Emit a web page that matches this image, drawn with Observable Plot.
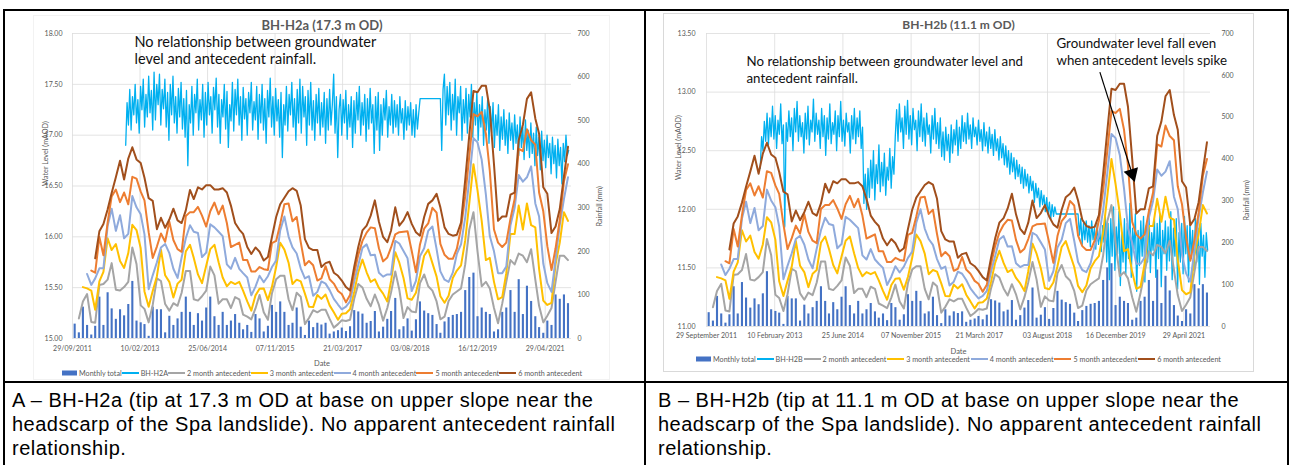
<!DOCTYPE html>
<html>
<head>
<meta charset="utf-8">
<script src="https://cdn.jsdelivr.net/npm/d3@7"></script>
<script src="https://cdn.jsdelivr.net/npm/@observablehq/plot@0.6"></script>
<style>
  html,body{margin:0;padding:0;background:#fff;}
  #page{position:relative;width:1290px;height:465px;overflow:hidden;background:#fff;}
  .bline{position:absolute;background:#000;}
  .frame{position:absolute;border:1px solid #d9d9d9;box-sizing:border-box;}
  .chart{position:absolute;top:0;}
  .legend{position:absolute;display:flex;justify-content:space-between;align-items:center;font-family:Lato,sans-serif;font-size:7.2px;color:#595959;white-space:nowrap;height:10px;}
  .legend .item{display:flex;align-items:center;}
  .legend svg{margin-right:2px;display:block;}
  .cap{position:absolute;font-family:"Liberation Sans",Arial,sans-serif;font-size:20px;letter-spacing:0.5px;line-height:24px;color:#000;white-space:nowrap;}
</style>
</head>
<body>
<div id="page">
  <div class="frame" style="left:33px;top:15px;width:577px;height:365px;border-color:#f2f2f2"></div>
  <div class="frame" style="left:663px;top:13px;width:591px;height:359px;"></div>
  <div id="chartA" class="chart" style="left:0px"></div>
  <div id="chartB" class="chart" style="left:645px"></div>
  <div id="legendA" class="legend" style="left:62px;top:368px;width:520px"></div>
  <div id="legendB" class="legend" style="left:696px;top:354px;width:525px"></div>
  <div class="bline" style="left:3px;top:9px;width:1286px;height:2px"></div>
  <div class="bline" style="left:3px;top:9px;width:2px;height:456px"></div>
  <div class="bline" style="left:644px;top:9px;width:2px;height:456px"></div>
  <div class="bline" style="left:1287px;top:9px;width:2px;height:456px"></div>
  <div class="bline" style="left:3px;top:381px;width:1286px;height:2px"></div>
  <div class="cap" style="left:12px;top:388px">A – BH-H2a (tip at 17.3 m OD at base on upper slope near the<br>headscarp of the Spa landslide). No apparent antecedent rainfall<br>relationship.</div>
  <div class="cap" style="left:658px;top:388px">B – BH-H2b (tip at 11.1 m OD at base on upper slope near the<br>headscarp of the Spa landslide). No apparent antecedent rainfall<br>relationship.</div>
</div>
<script>
// ---------- axis ticks ----------
const xStart = "2011-09-29";
const xEnd = "2021-11-10";
const dateTicks = ["2011-09-29","2013-02-10","2014-06-25","2015-11-07","2017-03-21","2018-08-03","2019-12-16","2021-04-29"];
const levelTicksA = [15, 15.5, 16, 16.5, 17, 17.5, 18];
const levelTicksB = [11, 11.5, 12, 12.5, 13, 13.5];
const rainTicks = [0, 100, 200, 300, 400, 500, 600, 700];

// ---------- monthly rainfall (mm), Oct 2011 .. Oct 2021 ----------
const firstMonth = "2011-10-01";
const monthlyTotal = [
 33,13,72,30,8,28,95,30,105,68,44,66,
 52,78,131,40,36,32,5,72,66,66,13,51,
 30,45,60,95,60,30,57,40,70,95,50,30,
 60,30,40,55,35,20,30,14,55,45,15,28,
 76,60,84,60,30,35,70,26,7,40,25,35,
 31,35,10,15,18,24,16,27,64,61,56,35,
 39,62,15,26,44,62,92,20,27,45,17,43,
 84,63,57,53,32,12,38,48,53,55,60,110,
 140,150,50,70,60,55,15,20,60,70,110,60,
 135,55,120,85,50,25,12,40,30,100,90,100,
 80];
// antecedent rainfall (mm); each list ends at Oct 2021
const ante2 = [46,85,102,38,36,123,125,135,173,112,110,
 118,130,209,171,76,68,37,77,138,132,79,64,
 81,75,105,155,155,90,87,97,110,165,145,80,
 90,90,70,95,90,55,50,44,69,100,60,43,
 104,136,144,144,90,65,105,96,33,47,65,60,
 66,66,45,25,33,42,40,43,91,125,117,91,
 74,101,77,41,70,106,154,112,47,72,62,60,
 127,147,120,110,85,44,50,86,101,108,115,170,
 250,290,200,120,130,115,70,35,80,130,180,170,
 195,190,175,205,135,75,37,52,70,130,190,190,
 180];
const ante3 = [118,115,110,66,131,153,230,203,217,178,
 162,196,261,249,207,108,73,109,143,204,145,130,
 94,126,135,200,215,185,147,127,167,205,215,175,
 140,120,130,125,130,110,85,64,99,114,115,88,
 119,164,220,204,174,125,135,131,103,73,72,100,
 91,101,76,60,43,57,58,67,107,152,181,152,
 130,136,116,103,85,132,198,174,139,92,89,105,
 144,190,204,173,142,97,82,98,139,156,168,225,
 310,400,340,270,180,185,130,90,95,150,240,240,
 305,250,310,260,255,160,87,77,82,170,220,290,
 270];
const ante4 = [148,123,138,161,161,258,298,247,283,
 230,240,327,301,285,239,113,145,175,209,217,196,
 160,139,186,230,260,245,242,187,197,262,255,245,
 235,170,160,185,160,150,140,99,119,144,129,143,
 164,179,248,280,234,209,195,161,138,143,98,107,
 131,126,111,91,78,67,73,85,131,168,208,216,
 191,192,151,142,147,147,224,218,201,184,109,132,
 189,207,247,257,205,154,135,130,151,194,216,278,
 365,460,450,410,330,235,200,150,150,165,260,300,
 375,360,370,395,310,280,172,127,107,182,260,320,
 370];
const ante5 = [156,151,233,191,266,326,342,313,
 335,308,371,367,337,317,244,185,211,241,222,268,
 226,205,199,281,290,290,302,282,257,292,312,285,
 305,265,210,215,220,180,180,154,154,164,159,157,
 219,224,263,308,310,269,279,221,168,178,168,133,
 138,166,136,126,109,102,83,100,149,192,224,243,
 255,253,207,177,186,209,239,244,245,246,201,152,
 216,252,264,300,289,217,192,183,183,206,254,326,
 418,515,510,520,470,385,250,220,210,220,275,320,
 435,430,480,455,445,335,292,212,157,207,272,360,
 400];
const ante6 = [184,246,263,296,334,370,408,
 365,413,439,411,403,369,322,316,251,277,254,273,
 298,271,265,294,341,320,347,342,352,352,342,342,
 345,335,305,265,250,240,210,194,209,199,179,187,
 233,279,308,323,338,345,339,305,228,208,203,203,
 164,173,176,151,144,133,118,110,164,210,248,259,
 282,317,268,233,221,248,301,259,271,290,263,244,
 236,279,309,317,332,301,255,240,236,238,266,364,
 466,568,565,580,580,525,400,270,280,280,330,335,
 455,490,550,565,505,470,347,332,242,257,297,372,
 440];

// ---------- groundwater levels (mAOD), one reading every 10 days from 27 Oct 2012 ----------
const gwStart = "2012-10-27";
const gwStepDays = 10;
const levelH2a = [
 16.90,17.32,17.10,17.45,17.05,17.38,17.20,17.50,17.12,17.35,
 17.02,17.48,17.25,17.55,17.08,17.40,17.18,17.58,17.22,17.44,
 17.05,17.62,17.15,17.50,17.30,17.60,17.10,17.45,17.26,17.55,
 17.08,17.42,16.95,17.50,17.20,17.58,17.12,17.38,17.02,17.46,
 17.18,17.52,17.06,17.36,16.98,17.44,16.70,17.30,17.12,17.48,
 17.00,17.40,17.22,17.55,17.05,17.35,17.15,17.50,16.98,17.42,
 17.10,17.52,17.20,17.38,17.02,17.47,17.25,17.56,17.08,17.40,
 16.92,17.35,17.18,17.50,17.06,17.43,16.88,17.30,17.14,17.52,
 17.04,17.45,17.20,17.55,17.10,17.38,16.95,17.47,17.16,17.36,
 17.00,17.42,17.22,17.52,17.05,17.33,17.15,17.48,16.96,17.40,
 17.12,17.50,17.05,17.36,16.92,17.44,17.18,17.56,17.08,17.38,
 17.00,17.46,17.14,17.35,16.98,17.42,16.78,17.30,17.10,17.48,
 17.04,17.40,17.20,17.52,17.08,17.36,16.95,17.45,17.12,17.55,
 17.02,17.48,17.18,17.38,16.90,17.44,17.10,17.52,17.05,17.34,
 16.95,17.40,17.12,17.46,17.00,17.32,17.08,17.42,16.92,17.36,
 17.05,17.45,17.10,17.30,17.60,17.02,17.38,16.78,17.25,17.40,
 17.00,17.35,17.12,17.44,16.96,17.30,17.08,17.38,16.88,17.34,
 17.02,17.42,17.15,17.48,17.00,17.32,17.10,17.40,16.94,17.36,
 17.06,17.46,17.12,17.30,16.82,17.38,17.05,17.42,16.85,17.30,
 17.00,17.36,17.15,17.44,16.98,17.28,17.10,17.40,17.02,17.34,
 17.08,17.30,17.00,17.38,17.12,17.26,16.96,17.34,17.05,17.28,
 17.10,17.32,17.00,17.25,16.98,17.30,17.06,17.22,
 17.36,17.36,17.36,17.36,17.36,17.36,17.36,17.36,17.36,17.36,17.36,17.36,17.36,17.36,17.36,17.36,
 16.85,17.45,17.60,17.10,17.48,17.20,
 17.52,17.05,17.40,17.15,17.55,17.00,17.38,17.22,17.48,16.95,
 17.35,17.12,17.46,17.02,17.40,17.18,17.50,16.98,17.32,17.10,
 17.42,16.95,17.30,17.08,17.38,16.90,17.25,17.05,17.35,16.92,
 17.28,17.02,17.32,16.88,17.20,17.00,17.30,16.85,17.18,16.96,
 17.25,16.90,17.15,16.82,17.22,16.95,17.12,16.86,17.20,16.92,
 17.10,16.80,17.18,16.88,17.08,16.76,17.15,16.85,17.05,16.78,
 17.12,16.82,17.02,16.70,17.08,16.80,16.98,16.66,17.04,16.75,
 16.95,16.68,17.00,16.78,16.92,16.62,16.98,16.72,16.90,16.58,
 16.96,16.70,16.88,16.52,16.92,16.74,17.00,16.80,16.85];
const levelH2b = [
 12.35,12.62,12.50,12.75,12.58,12.82,12.55,12.78,12.62,12.88,
 12.60,12.80,12.52,12.76,12.64,12.90,12.56,12.72,11.85,12.74,
 12.58,12.84,12.62,12.78,12.50,12.86,12.66,12.92,12.58,12.80,
 12.62,12.74,12.48,12.82,12.60,12.88,12.55,12.76,12.66,12.94,
 12.58,12.82,12.64,12.76,12.52,12.86,12.62,12.80,12.46,12.78,
 12.60,12.90,12.56,12.74,12.64,12.84,12.50,12.80,12.62,12.92,
 12.58,12.76,12.54,12.82,12.66,12.74,12.48,12.80,12.60,12.86,
 12.56,12.78,12.62,12.84,12.52,12.70,
 12.05,12.30,12.00,12.35,
 12.10,12.42,12.18,12.50,12.08,12.38,12.22,12.55,12.15,12.40,
 12.20,12.48,12.12,12.36,12.25,12.52,12.18,12.45,12.30,
 12.62,12.85,12.58,12.90,12.66,12.78,12.52,12.88,12.64,12.93,12.60,
 12.80,12.55,12.86,12.68,12.76,12.50,12.84,12.62,12.90,12.58,
 12.78,12.54,12.82,12.64,12.72,12.48,12.80,12.60,12.86,12.56,
 12.74,12.52,12.78,12.45,12.66,12.42,12.70,12.50,12.64,12.40,
 12.72,12.48,12.68,12.55,12.76,12.46,12.70,12.52,12.80,12.58,
 12.74,12.56,12.82,12.60,12.72,12.52,12.78,12.62,12.70,12.55,
 12.76,12.58,12.68,12.50,12.74,12.54,12.66,12.48,12.70,12.52,
 12.64,12.46,12.68,12.50,12.60,12.42,12.62,12.44,12.56,12.38,
 12.54,12.36,12.50,12.30,12.48,12.32,12.44,12.26,12.42,12.28,
 12.38,12.22,12.36,12.18,12.34,12.20,12.30,12.14,12.28,12.16,
 12.24,12.06,12.22,12.10,12.18,12.02,12.16,12.04,12.12,11.98,
 12.10,11.96,12.06,11.92,12.04,11.94,12.02,11.96,
 11.96,11.96,11.96,11.96,11.96,11.96,11.96,11.96,11.96,11.96,11.96,11.96,11.96,11.96,11.96,11.96,
 11.78,11.92,11.70,11.88,11.74,11.90,
 11.72,11.86,11.68,11.90,11.74,11.84,11.66,11.88,11.70,11.82,
 11.64,11.86,11.72,11.95,11.55,11.88,11.40,11.92,11.60,12.02,
 11.48,11.85,11.62,11.98,11.35,11.80,11.55,11.92,11.45,11.88,
 11.58,12.05,11.42,11.84,11.66,11.96,11.30,11.82,11.52,11.90,
 11.60,11.94,11.38,11.86,11.55,12.00,11.46,11.80,11.65,11.92,
 11.42,11.88,11.58,11.96,11.34,11.82,11.62,11.90,11.48,11.85,
 11.56,11.98,11.40,11.84,11.60,11.92,11.32,11.80,11.55,11.88,
 11.45,11.94,11.62,11.86,11.38,11.90,11.58,11.82,11.48,11.92,
 11.55,11.84,11.36,11.88,11.60,11.78,11.42,11.80,11.65];

// ---------- annotation arrow (panel B), in data units ----------
const arrowFrom = {date: "2019-08-22", level: 13.17};
const arrowTo = {date: "2020-04-29", level: 12.25};

// ---------- series styling ----------
const anteSeries = [
  {name: "2 month antecedent", values: ante2, color: "#A5A5A5"},
  {name: "3 month antecedent", values: ante3, color: "#FFC000"},
  {name: "4 month antecedent", values: ante4, color: "#8FAADC"},
  {name: "5 month antecedent", values: ante5, color: "#ED7D31"},
  {name: "6 month antecedent", values: ante6, color: "#A14F1C"}
];
const barColor = "#4472C4";
const gwColor = "#00B0F0";

const parse = s => new Date(s + "T00:00:00Z");
const monthDates = monthlyTotal.map((_, i) => d3.utcDay.offset(d3.utcMonth.offset(parse(firstMonth), i), 14));
const rainRows = monthlyTotal.map((v, i) => ({date: monthDates[i], value: v}));
function anteRows(values) {
  const lag = monthlyTotal.length - values.length;
  return values.map((v, j) => ({date: monthDates[j + lag], value: v}));
}
function gwRows(values) {
  return values.map((v, i) => ({date: d3.utcDay.offset(parse(gwStart), i * gwStepDays), value: v}));
}

function drawChart(cfg) {
  const yRain = d3.scaleLinear([0, 700], cfg.levelDomain);
  const ticksX = dateTicks.map(parse);
  const marks = [
    Plot.gridY(cfg.levelTicks, {stroke: "#dcdcdc", strokeOpacity: 1, strokeWidth: 0.8}),
    Plot.gridX(ticksX, {stroke: "#dcdcdc", strokeOpacity: 1, strokeWidth: 0.8}),
    Plot.ruleX(rainRows, {x: "date", y1: cfg.levelDomain[0], y2: d => yRain(d.value), stroke: barColor, strokeWidth: 2.1}),
    Plot.line(gwRows(cfg.level), {x: "date", y: "value", stroke: gwColor, strokeWidth: 1.3}),
    ...anteSeries.map(s => Plot.line(anteRows(s.values), {x: "date", y: d => yRain(d.value), stroke: s.color, strokeWidth: 2})),
    Plot.axisY(cfg.levelTicks, {tickSize: 0, tickPadding: cfg.yTickPad, tickFormat: d => d.toFixed(2), label: null}),
    Plot.axisY(rainTicks, {y: yRain, anchor: "right", tickSize: 0, tickPadding: cfg.rTickPad, tickFormat: d => String(d), label: null}),
    Plot.axisX(ticksX, {tickSize: 0, tickPadding: cfg.xTickPad, tickFormat: cfg.xFormat, label: null}),
    Plot.text([cfg.title], {frameAnchor: "top", lineAnchor: "middle", dy: -8, fontSize: cfg.titleSize, fontWeight: "bold", fill: "#595959"}),
    Plot.text(["Water Level (mAOD)"], {frameAnchor: "left", rotate: -90, dx: cfg.wlDx, fontSize: 7.2}),
    Plot.text(["Rainfall (mm)"], {frameAnchor: "right", rotate: -90, dx: cfg.rfDx, fontSize: 7.2}),
    Plot.text(["Date"], {frameAnchor: "bottom", lineAnchor: "middle", dy: cfg.dateDy, fontSize: 7.5}),
    ...cfg.notes.map(n => Plot.text([n.text], {frameAnchor: "top-left", textAnchor: "start", lineAnchor: "top", dx: n.dx, dy: n.dy, fontSize: n.size, lineHeight: n.lh, fill: "#111"}))
  ];
  if (cfg.arrow) {
    marks.push(Plot.link([0], {x1: () => parse(arrowFrom.date), y1: () => arrowFrom.level, x2: () => parse(arrowTo.date), y2: () => arrowTo.level, stroke: "#000", strokeWidth: 1.2}));
    marks.push(Plot.dot([0], {x: () => parse(arrowTo.date), y: () => arrowTo.level, symbol: "triangle", r: 5.6, fill: "#000", stroke: "none", rotate: 162.5, dx: -2, dy: -6.3}));
  }
  return Plot.plot({
    width: cfg.width, height: cfg.height,
    marginLeft: cfg.marginLeft, marginRight: cfg.marginRight, marginTop: cfg.marginTop, marginBottom: cfg.marginBottom,
    style: {fontFamily: "Lato, sans-serif", fontSize: "7px", color: "#595959", background: "transparent", overflow: "visible"},
    x: {type: "utc", domain: [parse(xStart), parse(xEnd)]},
    y: {domain: cfg.levelDomain},
    marks
  });
}

document.getElementById("chartA").appendChild(drawChart({
  width: 645, height: 370, marginLeft: 72, marginRight: 74, marginTop: 33, marginBottom: 32,
  levelDomain: [15, 18], levelTicks: levelTicksA, level: levelH2a,
  title: "BH-H2a (17.3 m OD)", titleSize: 13, xFormat: d3.utcFormat("%d/%m/%Y"),
  yTickPad: 10, rTickPad: 6, xTickPad: 8, wlDx: -27, rfDx: 28, dateDy: 25,
  notes: [{text: "No relationship between groundwater\nlevel and antecedent rainfall.", dx: 62, dy: 1, size: 14.5, lh: 1.2}],
  arrow: false
}));
document.getElementById("chartB").appendChild(drawChart({
  width: 645, height: 360, marginLeft: 61, marginRight: 80, marginTop: 33, marginBottom: 34,
  levelDomain: [11, 13.5], levelTicks: levelTicksB, level: levelH2b,
  title: "BH-H2b (11.1 m OD)", titleSize: 12, xFormat: d3.utcFormat("%d %B %Y"),
  yTickPad: 11, rTickPad: 11, xTickPad: 7, wlDx: -28, rfDx: 36, dateDy: 25,
  notes: [
    {text: "No relationship between groundwater level and\nantecedent rainfall.", dx: 40, dy: 20.5, size: 13.3, lh: 1.27},
    {text: "Groundwater level fall even\nwhen antecedent levels spike", dx: 350, dy: 2.5, size: 13.3, lh: 1.27}
  ],
  arrow: true
}));

function legend(id, gwName) {
  const el = document.getElementById(id);
  const items = [{name: "Monthly total", rect: true, color: barColor}, {name: gwName, color: gwColor},
    ...anteSeries.map(s => ({name: s.name, color: s.color}))];
  for (const it of items) {
    const d = document.createElement("div");
    d.className = "item";
    d.innerHTML = (it.rect
      ? `<svg width="15" height="6"><rect x="0" y="0.5" width="15" height="5" fill="${it.color}"/></svg>`
      : `<svg width="17" height="6"><line x1="0" x2="17" y1="3" y2="3" stroke="${it.color}" stroke-width="2"/></svg>`) +
      `<span>${it.name}</span>`;
    el.appendChild(d);
  }
}
legend("legendA", "BH-H2A");
legend("legendB", "BH-H2B");
</script>
</body>
</html>
